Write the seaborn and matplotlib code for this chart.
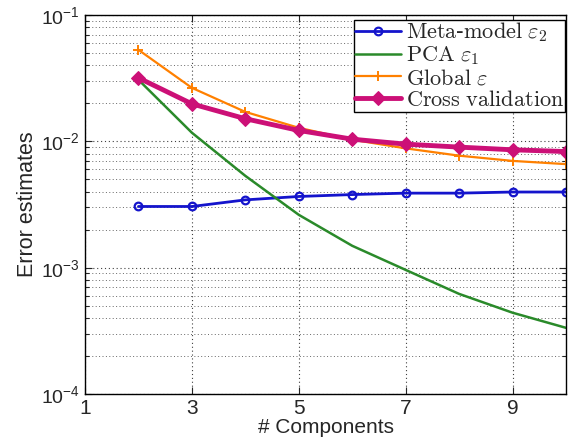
import numpy as np
import pandas as pd
import matplotlib
matplotlib.use("Agg")
import matplotlib.pyplot as plt
import seaborn as sns
from matplotlib.ticker import LogLocator, FixedLocator

components = [2, 3, 4, 5, 6, 7, 8, 9, 10]
meta_model = [0.00305, 0.00305, 0.00344, 0.00366, 0.00379, 0.00389, 0.00389, 0.00397, 0.00397]
pca = [0.0307, 0.0117, 0.00533, 0.00262, 0.00149, 0.00096, 0.00062, 0.00044, 0.000334]
global_err = [0.053, 0.0265, 0.0171, 0.0128, 0.0103, 0.0088, 0.0077, 0.0070, 0.0066]
cross_val = [0.0318, 0.0198, 0.0151, 0.0122, 0.0104, 0.0095, 0.0090, 0.00857, 0.0083]

labels = [r"$\mathrm{Meta}$-$\mathrm{model}\ \varepsilon_2$", r"$\mathrm{PCA}\ \varepsilon_1$",
          r"$\mathrm{Global}\ \varepsilon$", r"$\mathrm{Cross\ validation}$"]
x_ticks = [1, 3, 5, 7, 9]

sns.set_style("ticks")
plt.rcParams["font.family"] = ["Liberation Sans", "DejaVu Sans"]
plt.rcParams["mathtext.fontset"] = "cm"
plt.rcParams["xtick.direction"] = "in"
plt.rcParams["ytick.direction"] = "in"

fig = plt.figure(figsize=(5.8, 4.48), dpi=100)
ax = fig.add_axes([85/580, 1-394/448, (566-85)/580, (394-15)/448])

series = [
    (meta_model, labels[0], dict(color="#1414cc", lw=2.0, marker="o", ms=5.5,
                                  mfc="none", mec="#1414cc", mew=1.6)),
    (pca, labels[1], dict(color="#2a8a2a", lw=1.8)),
    (global_err, labels[2], dict(color="#ff8000", lw=1.6, marker="+", ms=7,
                                 mec="#ff8000", mew=1.4)),
    (cross_val, labels[3], dict(color="#cc1077", lw=3.5, marker="D", ms=7,
                                mec="#cc1077", mfc="#cc1077")),
]
for vals, lab, kw in series:
    df = pd.DataFrame({"x": components, "y": vals})
    sns.lineplot(data=df, x="x", y="y", ax=ax, label=lab, ls="-", **kw)

ax.set_yscale("log")
ax.set_xlim(1, 10)
ax.set_ylim(1e-4, 1e-1)
ax.xaxis.set_major_locator(FixedLocator(x_ticks))
ax.set_xticklabels([str(t) for t in x_ticks])
ax.yaxis.set_major_locator(LogLocator(base=10, numticks=10))
ax.yaxis.set_minor_locator(LogLocator(base=10, subs=np.arange(2, 10), numticks=10))
ax.tick_params(which="both", top=True, right=True, width=0.8)
ax.tick_params(axis="y", labelsize=14)
ax.tick_params(axis="x", labelsize=15)
ax.tick_params(which="major", length=5)
ax.tick_params(which="minor", length=3)
ax.grid(True, which="major", ls=(0, (1, 2.5)), color="0.25", lw=0.8)
ax.grid(True, which="minor", axis="y", ls=(0, (1, 2.5)), color="0.4", lw=0.7)
ax.set_axisbelow(True)
for s in ax.spines.values():
    s.set_linewidth(1.0)
    s.set_color("black")

ax.set_xlabel("# Components", fontsize=15, labelpad=0)
ax.set_ylabel("Error estimates", fontsize=15.5, labelpad=2)

leg = ax.legend(loc="upper right", bbox_to_anchor=(0.998, 0.988), frameon=True,
                fancybox=False, edgecolor="black", framealpha=1,
                prop={"family": "DejaVu Serif", "size": 16},
                labelspacing=0.0, handlelength=2.1, handletextpad=0.2,
                borderpad=0.05, borderaxespad=0.0)
leg.get_frame().set_linewidth(1.0)

fig.savefig("out.png", dpi=100)
